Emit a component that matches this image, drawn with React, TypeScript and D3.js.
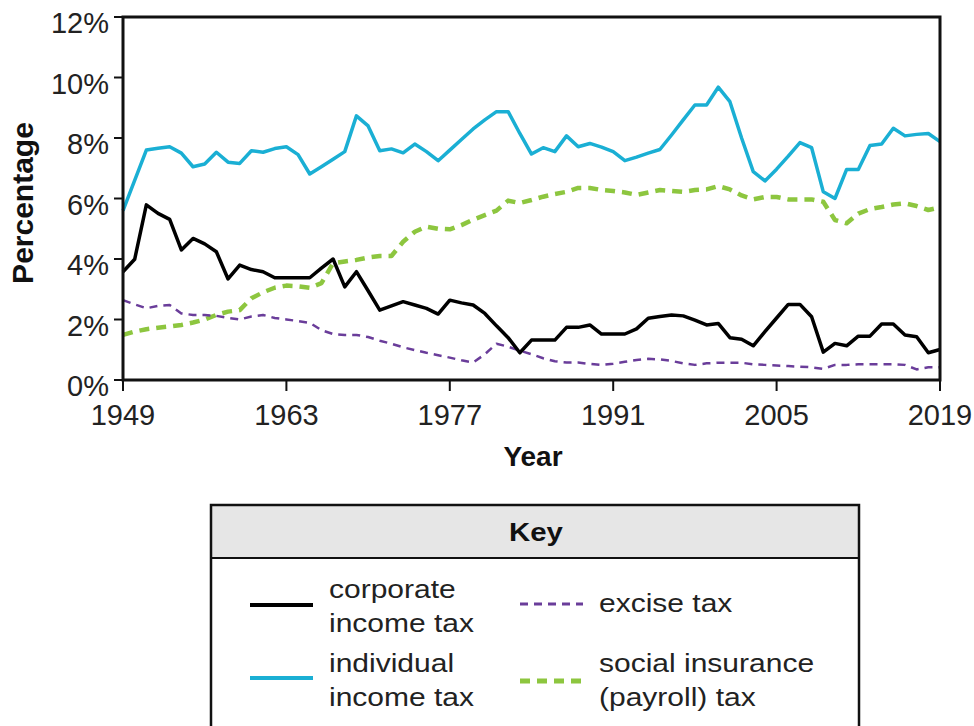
import React, { useEffect, useRef } from 'react';
import * as d3 from 'd3';

const years = d3.range(1949, 2020);

const corporate = [
  3.58, 3.99, 5.79, 5.51, 5.31, 4.3, 4.68, 4.5, 4.24, 3.34, 3.8, 3.65, 3.58, 3.38, 3.38, 3.38, 3.38, 3.7, 4.0, 3.08,
  3.58, 2.95, 2.31, 2.45, 2.59, 2.48, 2.37, 2.18, 2.64, 2.55, 2.48, 2.2, 1.79, 1.4, 0.9, 1.32, 1.32, 1.32, 1.74, 1.74,
  1.82, 1.52, 1.52, 1.52, 1.69, 2.04, 2.1, 2.15, 2.12, 1.98, 1.82, 1.87, 1.4, 1.35, 1.13, 1.6, 2.05, 2.5, 2.5, 2.09,
  0.92, 1.21, 1.13, 1.45, 1.45, 1.85, 1.85, 1.49, 1.43, 0.9, 1.01,
];

const individual = [
  5.6, 6.6, 7.6, 7.66, 7.71, 7.5, 7.05, 7.14, 7.53, 7.2, 7.16, 7.58, 7.53, 7.65, 7.71, 7.45, 6.81, 7.05, 7.3, 7.55,
  8.73, 8.4, 7.58, 7.64, 7.51, 7.8, 7.55, 7.25, 7.6, 7.95, 8.3, 8.6, 8.87, 8.87, 8.15, 7.47, 7.68, 7.55, 8.07, 7.71,
  7.82, 7.7, 7.55, 7.25, 7.37, 7.5, 7.62, 8.1, 8.6, 9.09, 9.09, 9.68, 9.2, 8.0, 6.89, 6.58, 6.97, 7.4, 7.85, 7.68,
  6.22, 6.0, 6.96, 6.96, 7.75, 7.8, 8.32, 8.07, 8.12, 8.15, 7.88,
];

const excise = [
  2.64, 2.5, 2.37, 2.45, 2.48, 2.2, 2.15, 2.15, 2.12, 2.05, 2.0, 2.1, 2.15, 2.05, 2.0, 1.95, 1.89, 1.65, 1.52, 1.49,
  1.49, 1.42, 1.3, 1.2, 1.08, 0.99, 0.9, 0.82, 0.74, 0.65, 0.58, 0.85, 1.2, 1.1, 0.97, 0.85, 0.72, 0.62, 0.58, 0.58,
  0.53, 0.5, 0.54, 0.6, 0.66, 0.7, 0.68, 0.63, 0.55, 0.5, 0.55, 0.57, 0.57, 0.57, 0.52, 0.5, 0.48, 0.46, 0.44, 0.42,
  0.37, 0.5, 0.5, 0.52, 0.52, 0.52, 0.52, 0.5, 0.35, 0.42, 0.42,
];

const socialInsurance = [
  1.49, 1.6, 1.68, 1.73, 1.77, 1.82, 1.9, 2.0, 2.15, 2.26, 2.31, 2.7, 2.9, 3.05, 3.12, 3.1, 3.05, 3.2, 3.86, 3.92,
  3.97, 4.05, 4.1, 4.1, 4.57, 4.9, 5.07, 5.0, 4.98, 5.12, 5.3, 5.45, 5.6, 5.93, 5.85, 5.95, 6.06, 6.15, 6.22, 6.35,
  6.35, 6.28, 6.25, 6.2, 6.12, 6.2, 6.28, 6.25, 6.22, 6.28, 6.3, 6.41, 6.3, 6.1, 5.97, 6.05, 6.05, 5.97, 5.97, 5.97,
  5.89, 5.29, 5.18, 5.5, 5.65, 5.72, 5.8, 5.84, 5.75, 5.62, 5.71,
];

const xTicks = [1949, 1963, 1977, 1991, 2005, 2019];
const yTicks = [0, 2, 4, 6, 8, 10, 12];

const FONT = '"Liberation Sans", Arial, sans-serif';

const App: React.FC = () => {
  const svgRef = useRef<SVGSVGElement>(null);

  useEffect(() => {
    if (!svgRef.current) return;
    const svg = d3.select(svgRef.current);
    svg.selectAll('*').remove();

    const left = 123, right = 940, top = 17, bottom = 380;
    const x = d3.scaleLinear().domain([1949, 2019]).range([left, right]);
    const y = d3.scaleLinear().domain([0, 12]).range([bottom, top]);

    svg.append('rect').attr('width', 974).attr('height', 726).attr('fill', 'white');

    const series = [
      { name: 'social', data: socialInsurance, color: '#8dc63f', width: 4.5, dash: '10,7' },
      { name: 'excise', data: excise, color: '#6a3d9a', width: 2.5, dash: '8,6' },
      { name: 'individual', data: individual, color: '#1aafd4', width: 3.5, dash: null },
      { name: 'corporate', data: corporate, color: '#000000', width: 3.5, dash: null },
    ];

    const line = d3.line<number>()
      .x((_, i) => x(years[i]))
      .y(d => y(d));

    series.forEach(s => {
      svg.append('path')
        .datum(s.data)
        .attr('d', line)
        .attr('fill', 'none')
        .attr('stroke', s.color)
        .attr('stroke-width', s.width)
        .attr('stroke-linejoin', 'round')
        .attr('stroke-dasharray', s.dash);
    });

    // frame
    svg.append('rect')
      .attr('x', left).attr('y', top)
      .attr('width', right - left).attr('height', bottom - top)
      .attr('fill', 'none').attr('stroke', '#111').attr('stroke-width', 3);

    // y ticks
    yTicks.forEach(t => {
      svg.append('line')
        .attr('x1', left - 9).attr('x2', left)
        .attr('y1', y(t)).attr('y2', y(t))
        .attr('stroke', '#111').attr('stroke-width', 2);
      svg.append('text')
        .attr('x', 109).attr('y', y(t) + 16)
        .attr('text-anchor', 'end')
        .style('font-family', FONT).style('font-size', '29px').attr('fill', '#222')
        .text(`${t}%`);
    });

    // x ticks
    xTicks.forEach(t => {
      svg.append('line')
        .attr('x1', x(t)).attr('x2', x(t))
        .attr('y1', bottom).attr('y2', bottom + 11)
        .attr('stroke', '#111').attr('stroke-width', 2);
      svg.append('text')
        .attr('x', x(t)).attr('y', 425)
        .attr('text-anchor', 'middle')
        .style('font-family', FONT).style('font-size', '29px').attr('fill', '#222')
        .text(t);
    });

    svg.append('text')
      .attr('transform', `translate(33, 203) rotate(-90)`)
      .attr('text-anchor', 'middle')
      .style('font-family', FONT).style('font-size', '30px').style('font-weight', 'bold')
      .attr('fill', '#111')
      .text('Percentage');

    svg.append('text')
      .attr('x', 533).attr('y', 466)
      .attr('text-anchor', 'middle')
      .style('font-family', FONT).style('font-size', '28px').style('font-weight', 'bold')
      .attr('fill', '#111')
      .text('Year');

    // key
    const kx = 211, kw = 648, ky = 505, kh = 53;
    svg.append('rect').attr('x', kx).attr('y', ky).attr('width', kw).attr('height', kh)
      .attr('fill', '#e6e6e6');
    svg.append('rect').attr('x', kx).attr('y', ky).attr('width', kw).attr('height', 260)
      .attr('fill', 'none').attr('stroke', '#111').attr('stroke-width', 2.5);
    svg.append('line').attr('x1', kx).attr('x2', kx + kw).attr('y1', ky + kh).attr('y2', ky + kh)
      .attr('stroke', '#111').attr('stroke-width', 2);
    svg.append('text')
      .attr('transform', `translate(${kx + kw / 2 + 1}, 541) scale(1.13, 1)`)
      .attr('text-anchor', 'middle')
      .style('font-family', FONT).style('font-size', '26px').style('font-weight', 'bold')
      .attr('fill', '#111')
      .text('Key');

    const keyItems = [
      { s: series[3], lx: 250, ly: 605, tx: 329, lines: ['corporate', 'income tax'], ty: 598 },
      { s: series[2], lx: 250, ly: 678, tx: 329, lines: ['individual', 'income tax'], ty: 672 },
      { s: series[1], lx: 520, ly: 604, tx: 599, lines: ['excise tax'], ty: 612 },
      { s: series[0], lx: 520, ly: 681, tx: 599, lines: ['social insurance', '(payroll) tax'], ty: 672 },
    ];
    keyItems.forEach(k => {
      svg.append('line')
        .attr('x1', k.lx).attr('x2', k.lx + 63)
        .attr('y1', k.ly).attr('y2', k.ly)
        .attr('stroke', k.s.color).attr('stroke-width', k.s.width + 0.5)
        .attr('stroke-dasharray', k.s.dash);
      k.lines.forEach((t, j) => {
        svg.append('text')
          .attr('transform', `translate(${k.tx}, ${k.ty + j * 34}) scale(1.2, 1)`)
          .style('font-family', FONT).style('font-size', '25px').attr('fill', '#222')
          .text(t);
      });
    });
  }, []);

  return (
    <svg
      ref={svgRef}
      width={974}
      height={726}
      style={{ position: 'absolute', left: 0, top: 0, display: 'block' }}
    />
  );
};

export default App;
